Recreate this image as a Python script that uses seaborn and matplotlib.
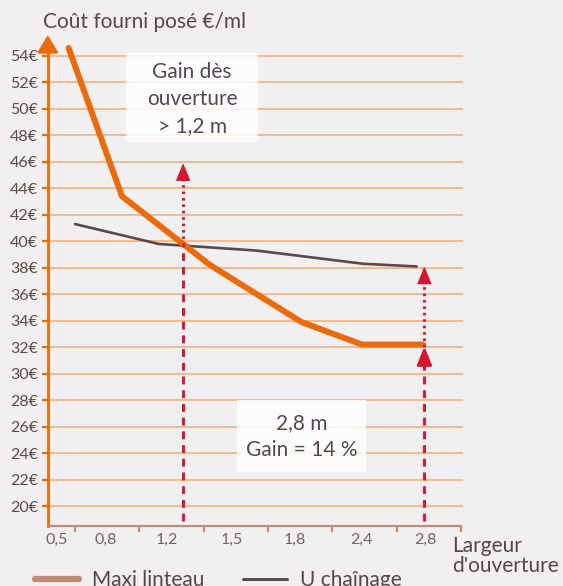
import matplotlib
matplotlib.use("Agg")
import matplotlib.pyplot as plt
import seaborn as sns
import pandas as pd
from matplotlib.lines import Line2D
from matplotlib.patches import Rectangle

# x is measured in tick slots: the axis ticks sit at 0..6
tick_pos = [0, 1, 2, 3, 4, 5, 6]
label_pos = [-0.28, 0.48, 1.43, 2.44, 3.42, 4.45, 5.44]
label_txt = ["0,5", "0,8", "1,2", "1,5", "1,8", "2,4", "2,8"]

maxi_x = [-0.10, 0.73, 2.10, 3.52, 4.46, 5.41]
maxi_y = [54.6, 43.4, 38.2, 33.9, 32.2, 32.2]
chain_x = [0.0, 1.30, 2.82, 4.48, 5.31]
chain_y = [41.3, 39.8, 39.3, 38.3, 38.1]

y_ticks = list(range(20, 56, 2))

# red markers: x, dashed top / dotted start, arrow tip
gain_x = [1.68, 5.43]
dash_top = [39.7, 30.8]
dot_tip = [45.9, 38.1]
low_tip = [None, 32.05]

BG = "#f2eff0"
ORANGE = "#eb6a0a"
GRID = "#f6b98e"
RED = "#d6162e"
DARK = "#56474a"
BROWN = "#bf8c78"

sns.set_theme(style="white", rc={"figure.facecolor": BG, "axes.facecolor": BG})
plt.rcParams["font.family"] = ["Lato", "DejaVu Sans"]

fig = plt.figure(figsize=(5.63, 5.86), dpi=100)
ax = fig.add_axes([0.0849, 0.1029, 0.7375, 0.8374])

df_maxi = pd.DataFrame({"x": maxi_x, "cout": maxi_y})
df_chain = pd.DataFrame({"x": chain_x, "cout": chain_y})

for v in y_ticks:
    ax.axhline(v, color=GRID, lw=1.4, zorder=1)

sns.lineplot(data=df_chain, x="x", y="cout", ax=ax, color="#574a48",
             lw=1.9, sort=False, zorder=3)
sns.lineplot(data=df_maxi, x="x", y="cout", ax=ax, color=ORANGE,
             lw=4.3, sort=False, zorder=4)

ax.set_xlim(-0.423, 6.03)
ax.set_ylim(18.52, 55.58)

# red guides
for i, gx in enumerate(gain_x):
    ax.plot([gx, gx], [18.9, dash_top[i]], color=RED, lw=2.1,
            ls=(0, (2.7, 2.0)), zorder=5)
    start = dash_top[i] if low_tip[i] is None else low_tip[i]
    ax.plot([gx, gx], [start, dot_tip[i] - 0.9], color=RED, lw=2.1,
            ls=(0, (0.9, 1.3)), zorder=5)
    ax.annotate("", xy=(gx, dot_tip[i]), xytext=(gx, dot_tip[i] - 1.2),
                arrowprops=dict(arrowstyle="-|>,head_length=1.1,head_width=0.45",
                                color=RED, lw=1, shrinkA=0, shrinkB=0,
                                mutation_scale=10), zorder=6)
    if low_tip[i] is not None:
        ax.annotate("", xy=(gx, low_tip[i]), xytext=(gx, low_tip[i] - 1.6),
                    arrowprops=dict(arrowstyle="-|>,head_length=1.1,head_width=0.45",
                                    color=RED, lw=2, shrinkA=0, shrinkB=0,
                                    mutation_scale=10), zorder=6)

# text boxes
ax.add_patch(Rectangle((0.793, 47.52), 2.047, 6.70, facecolor="white",
                       alpha=0.85, edgecolor="none", zorder=2))
ax.text(1.82, 50.72, "Gain dès\nouverture\n> 1,2 m", ha="center", va="center",
        fontsize=15, color=DARK, linespacing=1.45, zorder=7)
ax.add_patch(Rectangle((2.52, 22.60), 2.0, 5.41, facecolor="white",
                       alpha=0.85, edgecolor="none", zorder=2))
ax.text(3.52, 25.25, "2,8 m\nGain = 14 %", ha="center", va="center",
        fontsize=15, color=DARK, linespacing=1.45, zorder=7)

# axes styling
for s in ["top", "right"]:
    ax.spines[s].set_visible(False)
ax.spines["left"].set_color(ORANGE)
ax.spines["left"].set_linewidth(2.0)
ax.spines["left"].set_bounds(18.52, 54.9)
ax.spines["bottom"].set_color(BROWN)
ax.spines["bottom"].set_linewidth(1.6)
ax.spines["bottom"].set_bounds(-0.423, 6.0)
ax.annotate("", xy=(0, 1), xycoords="axes fraction",
            xytext=(0, 0.975), textcoords="axes fraction",
            arrowprops=dict(arrowstyle="-|>,head_length=0.75,head_width=0.45",
                            color=ORANGE, lw=2, shrinkA=0, shrinkB=0,
                            mutation_scale=14), annotation_clip=False)

ax.set_yticks(y_ticks)
ax.set_yticklabels([f"{v}€" for v in y_ticks])
ax.tick_params(axis="y", which="major", length=4, width=1.6, color=ORANGE,
               labelsize=11.5, labelcolor="#5a4c4a", pad=3, left=True)

ax.set_xticks(tick_pos)
ax.set_xticklabels([])
ax.set_xticks(label_pos, minor=True)
ax.set_xticklabels(label_txt, minor=True)
ax.tick_params(axis="x", which="major", length=4, width=1.6, color=BROWN,
               bottom=True, direction="out")
ax.tick_params(axis="x", which="minor", length=0, labelsize=11.5,
               labelcolor="#6f6665", pad=5)
ax.set_xlabel("")
ax.set_ylabel("")

fig.text(43 / 563, 1 - 21.7 / 586, "Coût fourni posé €/ml", ha="left",
         va="center", fontsize=15, color=DARK)
fig.text(452 / 563, 1 - 556 / 586, "Largeur\nd'ouverture", ha="left",
         va="center", fontsize=15, color=DARK, linespacing=1.05)

handles = [Line2D([], [], color=BROWN, lw=4.5),
           Line2D([], [], color="#555050", lw=2.2)]
fig.legend(handles, ["Maxi linteau", "U chaînage"], loc="center left",
           bbox_to_anchor=(35 / 563, 1 - 580 / 586), ncol=2, frameon=False,
           fontsize=15, handlelength=2.1, handletextpad=0.65,
           columnspacing=1.83, borderpad=0, borderaxespad=0,
           labelcolor=DARK)

fig.savefig("out.png", dpi=100, facecolor=BG)
